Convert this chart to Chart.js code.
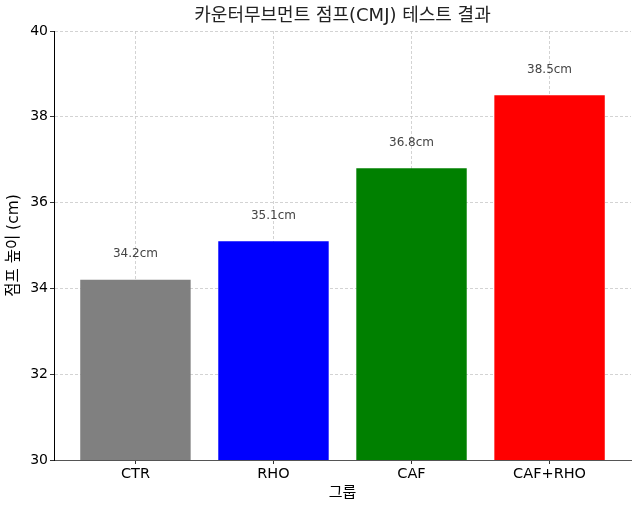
<!DOCTYPE html>
<html>
<head>
<meta charset="utf-8">
<script src="https://cdn.jsdelivr.net/npm/chart.js@4/dist/chart.umd.min.js"></script>
<style>
  html, body { margin: 0; padding: 0; background: #fff; }
  #wrap { width: 640px; height: 510px; }
</style>
</head>
<body>
<div id="wrap"><canvas id="grafico"></canvas></div>
<script>
// datos del gráfico
const grupos = ['CTR', 'RHO', 'CAF', 'CAF+RHO'];
const alturas = [34.2, 35.1, 36.8, 38.5];
const colores = ['#808080', '#0000ff', '#008000', '#ff0000'];
const ticksY = [30, 32, 34, 36, 38, 40];

Chart.defaults.font.family = "'DejaVu Sans', 'Noto Sans CJK KR', sans-serif";
Chart.defaults.color = '#000';

// etiquetas de valor encima de cada barra
const etiquetasValor = {
    id: 'etiquetasValor',
    afterDatasetsDraw(chart) {
        const ctx = chart.ctx;
        const { x, y } = chart.scales;
        ctx.save();
        ctx.font = "12px 'DejaVu Sans', sans-serif";
        ctx.fillStyle = '#444';
        ctx.textAlign = 'center';
        ctx.textBaseline = 'bottom';
        alturas.forEach((v, i) => {
            ctx.fillText(v.toFixed(1) + 'cm', x.getPixelForValue(i), y.getPixelForValue(v + 0.5) + 2);
        });
        ctx.restore();
    }
};

new Chart(document.getElementById('grafico'), {
    type: 'bar',
    data: {
        datasets: [{
            data: alturas.map((v, i) => ({ x: i, y: v })),
            backgroundColor: colores,
            borderWidth: 0,
            barPercentage: 0.8,
            categoryPercentage: 1
        }]
    },
    options: {
        responsive: true,
        maintainAspectRatio: false,
        animation: false,
        layout: { padding: { right: 9 } },
        plugins: {
            legend: { display: false },
            tooltip: { enabled: false },
            title: {
                display: true,
                fullSize: false,
                text: '카운터무브먼트 점프(CMJ) 테스트 결과',
                font: { size: 18, weight: 'normal' },
                color: '#222',
                padding: { top: 6, bottom: 3.4 }
            }
        },
        scales: {
            x: {
                type: 'linear',
                min: -0.59,
                max: 3.59,
                offset: false,
                z: 1,
                afterBuildTicks: s => { s.ticks = grupos.map((_, i) => ({ value: i })); },
                afterFit: s => { s.height = 50; },
                ticks: {
                    callback: v => grupos[v],
                    font: { size: 14.5 },
                    padding: 2,
                    maxRotation: 0
                },
                grid: {
                    offset: false,
                    color: 'rgba(200,200,200,0.8)',
                    tickColor: '#333',
                    tickLength: 4,
                    tickBorderDash: []
                },
                border: { color: '#555', width: 1, dash: [3, 2] },
                title: {
                    display: true,
                    text: '그룹',
                    font: { size: 15 },
                    padding: { top: 0, bottom: 8 }
                }
            },
            y: {
                min: 30,
                max: 40,
                z: 1,
                afterBuildTicks: s => { s.ticks = ticksY.map(v => ({ value: v })); },
                afterFit: s => { s.width = 54; },
                ticks: {
                    font: { size: 14 },
                    padding: 2
                },
                grid: {
                    color: 'rgba(200,200,200,0.8)',
                    tickColor: '#333',
                    tickLength: 4,
                    tickBorderDash: []
                },
                border: { color: '#000', width: 1, dash: [3, 2] },
                title: {
                    display: true,
                    text: '점프 높이 (cm)',
                    font: { size: 15.5 },
                    padding: { top: 5, bottom: 0 }
                }
            }
        }
    },
    plugins: [etiquetasValor]
});
</script>
</body>
</html>
